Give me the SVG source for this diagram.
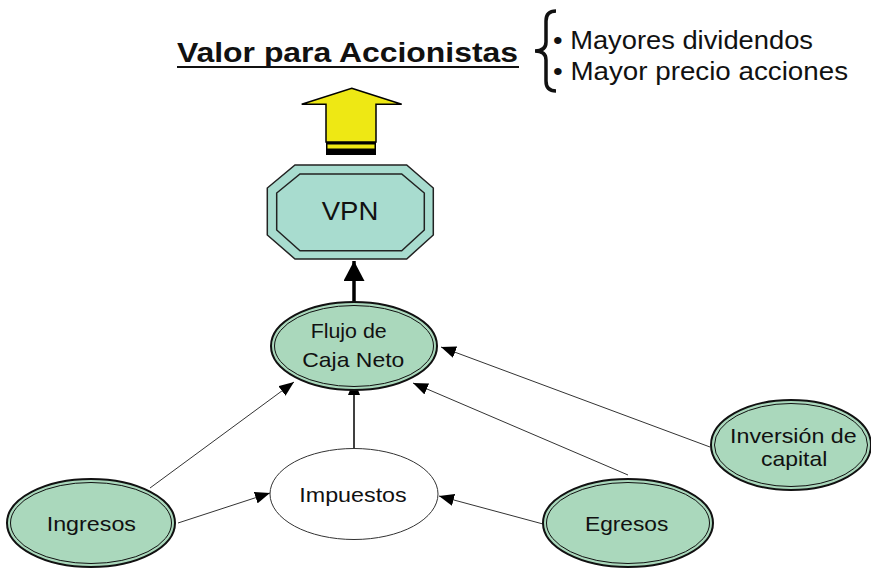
<svg xmlns="http://www.w3.org/2000/svg" width="871" height="568" viewBox="0 0 871 568">
<style>
.lbl{font-family:"Liberation Sans",Arial,sans-serif;font-size:21px;fill:#111;}
.title{font-family:"Liberation Sans",Arial,sans-serif;font-size:27px;font-weight:bold;fill:#111;}
.bul{font-family:"Liberation Sans",Arial,sans-serif;font-size:25.5px;fill:#111;}
.conn{stroke:#333;stroke-width:1;fill:none;marker-end:url(#ah);}
.green{fill:#AAD8BC;stroke:#111;stroke-width:2;}
.inner{fill:none;stroke:#111;stroke-width:1;}
</style>
<defs>
<marker id="ah" markerUnits="userSpaceOnUse" markerWidth="15" markerHeight="12" refX="15" refY="6" orient="auto">
<path d="M0,0 L15,6 L0,12 z" fill="#000"/>
</marker>
<marker id="ahBig" markerUnits="userSpaceOnUse" markerWidth="20" markerHeight="21" refX="20" refY="10.5" orient="auto">
<path d="M0,0 L20,10.5 L0,21 z" fill="#000"/>
</marker>
</defs>
<rect width="871" height="568" fill="#fff"/>

<g id="title">
<text class="title" x="177" y="62" textLength="341" lengthAdjust="spacingAndGlyphs">Valor para Accionistas</text>
<rect x="177" y="66" width="342" height="2" fill="#111"/>
<path d="M556,11 Q546,11 546,21 L546,42 Q546,51 535,51 Q546,51 546,60 L546,81 Q546,91 556,91" fill="none" stroke="#111" stroke-width="3.5"/>
<text class="bul" x="553" y="49" textLength="260" lengthAdjust="spacingAndGlyphs">• Mayores dividendos</text>
<text class="bul" x="553" y="80" textLength="295" lengthAdjust="spacingAndGlyphs">• Mayor precio acciones</text>
</g>

<g id="bigArrow">
<polygon points="351.7,88.3 401.7,104.3 376,104.3 376,142 326,142 326,104.3 301.7,104.3" fill="#EEE814" stroke="#000" stroke-width="1.5" stroke-linejoin="miter"/>
<rect x="326" y="142" width="50" height="13" fill="#000"/>
<rect x="327.5" y="144.5" width="47" height="4" fill="#EEE814"/>
</g>

<g id="connectors">
<line class="conn" x1="150" y1="488" x2="294" y2="382"/>
<line class="conn" x1="178" y1="523" x2="270" y2="493"/>
<line x1="354" y1="448" x2="354" y2="380" stroke="#000" stroke-width="1.5" marker-end="url(#ah)"/>
<line class="conn" x1="543" y1="524" x2="439" y2="496"/>
<line class="conn" x1="628" y1="475" x2="413" y2="383"/>
<line class="conn" x1="710" y1="447" x2="441" y2="347"/>
<line x1="354" y1="302" x2="354" y2="261" stroke="#000" stroke-width="3.5" marker-end="url(#ahBig)"/>
</g>

<g id="vpn">
<polygon points="295,165 406.7,165 433.3,188 433.3,235 406.7,259 295,259 267.3,235 267.3,188" fill="#A8DCCF" stroke="#222" stroke-width="1.5"/>
<polygon points="300,174 401.7,174 424.3,193 424.3,230 401.7,250.7 300,250.7 276.7,230 276.7,193" fill="none" stroke="#222" stroke-width="1.5"/>
<text class="lbl" x="321.7" y="220" style="font-size:26px" textLength="56.6" lengthAdjust="spacingAndGlyphs">VPN</text>
</g>

<g id="flujo">
<ellipse class="green" cx="354" cy="346" rx="83" ry="44"/>
<ellipse class="inner" cx="354" cy="346" rx="79.5" ry="40.5"/>
<text class="lbl" x="310.7" y="337.7" textLength="76" lengthAdjust="spacingAndGlyphs">Flujo de</text>
<text class="lbl" x="302.3" y="366.7" textLength="102" lengthAdjust="spacingAndGlyphs">Caja Neto</text>
</g>

<g id="ingresos">
<ellipse class="green" cx="91" cy="523" rx="84" ry="44"/>
<ellipse class="inner" cx="91" cy="523" rx="80.5" ry="40.5"/>
<text class="lbl" x="46.7" y="530.7" textLength="89.3" lengthAdjust="spacingAndGlyphs">Ingresos</text>
</g>

<g id="impuestos">
<ellipse cx="354" cy="494" rx="84" ry="45.5" fill="#fff" stroke="#333" stroke-width="1"/>
<text class="lbl" x="299.3" y="501.7" textLength="107.4" lengthAdjust="spacingAndGlyphs">Impuestos</text>
</g>

<g id="egresos">
<ellipse class="green" cx="628" cy="523" rx="85" ry="44"/>
<ellipse class="inner" cx="628" cy="523" rx="81.5" ry="40.5"/>
<text class="lbl" x="585" y="530.7" textLength="83.3" lengthAdjust="spacingAndGlyphs">Egresos</text>
</g>

<g id="inversion">
<ellipse class="green" cx="791" cy="445" rx="80" ry="45"/>
<ellipse class="inner" cx="791" cy="445" rx="76.5" ry="41.5"/>
<text class="lbl" x="730" y="442.7" textLength="126.7" lengthAdjust="spacingAndGlyphs">Inversión de</text>
<text class="lbl" x="761" y="466" textLength="66.3" lengthAdjust="spacingAndGlyphs">capital</text>
</g>
</svg>
